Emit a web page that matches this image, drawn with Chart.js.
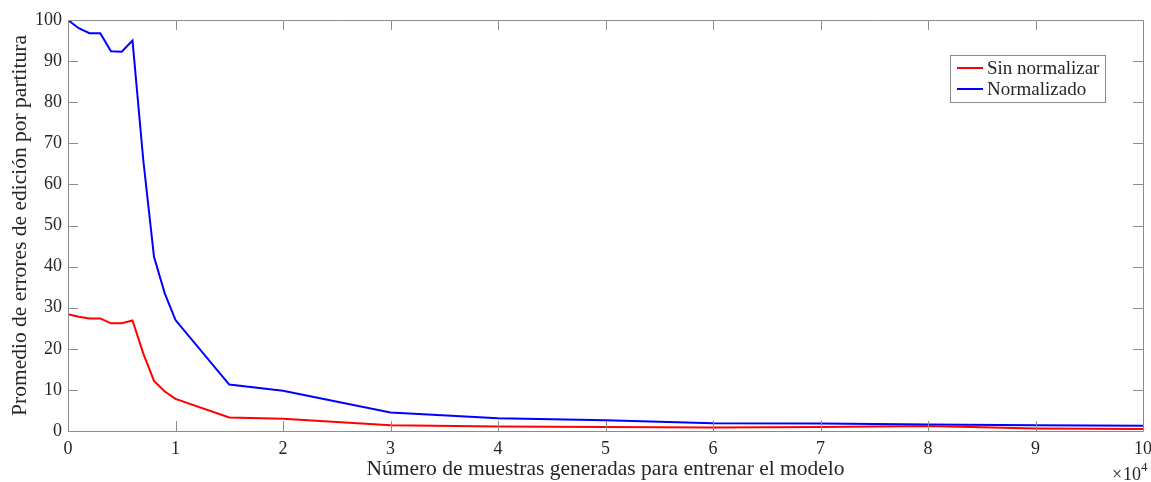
<!DOCTYPE html>
<html><head><meta charset="utf-8">
<script src="https://cdn.jsdelivr.net/npm/chart.js@4/dist/chart.umd.min.js"></script>
<style>html,body{margin:0;padding:0;background:#fff}#wrap{width:1151px;height:482px}</style>
</head><body><div id="wrap"><canvas id="c"></canvas></div>
<script>
const samples = [0,0.1,0.2,0.3,0.4,0.5,0.6,0.7,0.8,0.9,1.0,1.5,2,3,4,5,6,7,8,9,10];
const sinNormalizar = [28.4,27.8,27.4,27.4,26.2,26.2,26.9,18.9,12.2,9.6,7.8,3.3,3.0,1.4,1.1,0.95,0.85,1.0,1.2,0.6,0.5];
const normalizado = [100,98.0,96.8,96.8,92.4,92.3,95.0,66,42.4,33.5,27.0,11.3,9.8,4.5,3.1,2.6,1.9,1.8,1.6,1.4,1.3];
const xTicks = [0,1,2,3,4,5,6,7,8,9,10];
const yTicks = [0,10,20,30,40,50,60,70,80,90,100];
const seriesLabels = ['Sin normalizar','Normalizado'];
const seriesColors = ['#ff0000','#0000ff'];

const FONT = "'Liberation Serif','Times New Roman',serif";
const AX = '#8c8c8c';
const TXT = '#262626';

const boxPlugin = {
  id:'box',
  afterDraw(chart){
    const ctx = chart.ctx, a = chart.chartArea, xs = chart.scales.x, ys = chart.scales.y;
    ctx.save();
    ctx.strokeStyle = AX; ctx.lineWidth = 1;
    ctx.beginPath();
    ctx.rect(Math.round(a.left)+0.5, Math.round(a.top)+0.5, Math.round(a.right-a.left), Math.round(a.bottom-a.top));
    ctx.stroke();
    const tl = 10;
    ctx.beginPath();
    xTicks.forEach(v=>{
      const px = Math.round(xs.getPixelForValue(v))+0.5;
      ctx.moveTo(px,a.bottom); ctx.lineTo(px,a.bottom-tl);
      ctx.moveTo(px,a.top); ctx.lineTo(px,a.top+tl);
    });
    yTicks.forEach(v=>{
      const py = Math.round(ys.getPixelForValue(v))+0.5;
      ctx.moveTo(a.left,py); ctx.lineTo(a.left+tl,py);
      ctx.moveTo(a.right,py); ctx.lineTo(a.right-tl,py);
    });
    ctx.stroke();
    // legend
    const lx = 950, ly = 55, lw = 155, lh = 47;
    ctx.fillStyle = '#fff';
    ctx.fillRect(lx,ly,lw,lh);
    ctx.strokeStyle = AX;
    ctx.strokeRect(lx+0.5,ly+0.5,lw,lh);
    ctx.font = '19px ' + FONT;
    ctx.textBaseline = 'middle'; ctx.textAlign = 'left';
    chart.data.datasets.forEach((ds,i)=>{
      const cy = ly + 13 + i*21;
      ctx.strokeStyle = ds.borderColor; ctx.lineWidth = 2;
      ctx.beginPath(); ctx.moveTo(lx+7,cy); ctx.lineTo(lx+33,cy); ctx.stroke();
      ctx.fillStyle = TXT;
      ctx.fillText(ds.label, lx+37, cy+1);
    });
    // exponent
    ctx.fillStyle = TXT; ctx.textAlign='left'; ctx.textBaseline='alphabetic';
    ctx.font = '18px ' + FONT;
    ctx.fillText('\u00d7', 1112, 480);
    ctx.fillText('10', 1123, 480);
    ctx.font = '13px ' + FONT;
    ctx.fillText('4', 1141, 471);
    ctx.restore();
  }
};

new Chart(document.getElementById('c'),{
  type:'line',
  data:{
    datasets:[
      {label:seriesLabels[0], data:samples.map((x,i)=>({x,y:sinNormalizar[i]})), borderColor:seriesColors[0], borderWidth:2, pointRadius:0, tension:0},
      {label:seriesLabels[1], data:samples.map((x,i)=>({x,y:normalizado[i]})), borderColor:seriesColors[1], borderWidth:2, pointRadius:0, tension:0}
    ]
  },
  options:{
    responsive:true, maintainAspectRatio:false, animation:false,
    layout:{padding:{top:20,right:8,left:0,bottom:0}},
    plugins:{legend:{display:false},tooltip:{enabled:false}},
    scales:{
      x:{type:'linear',min:0,max:10,
        afterBuildTicks(s){s.ticks = xTicks.map(v=>({value:v}));},
        afterFit(s){s.height = 51; s.paddingRight = 0; s.paddingLeft = 0;},
        grid:{display:false,drawTicks:false},
        border:{display:false},
        ticks:{color:TXT,font:{family:FONT,size:18},padding:7,maxRotation:0},
        title:{display:true,text:'Número de muestras generadas para entrenar el modelo',color:TXT,font:{family:FONT,size:21.5},padding:{top:0,bottom:0}}
      },
      y:{type:'linear',min:0,max:100,
        afterBuildTicks(s){s.ticks = yTicks.map(v=>({value:v}));},
        afterFit(s){s.width = 68;},
        grid:{display:false,drawTicks:false},
        border:{display:false},
        ticks:{color:TXT,font:{family:FONT,size:18},padding:6},
        title:{display:true,text:'Promedio de errores de edición por partitura',color:TXT,font:{family:FONT,size:21.5},padding:{top:7,bottom:0}}
      }
    }
  },
  plugins:[boxPlugin]
});
</script></body></html>
